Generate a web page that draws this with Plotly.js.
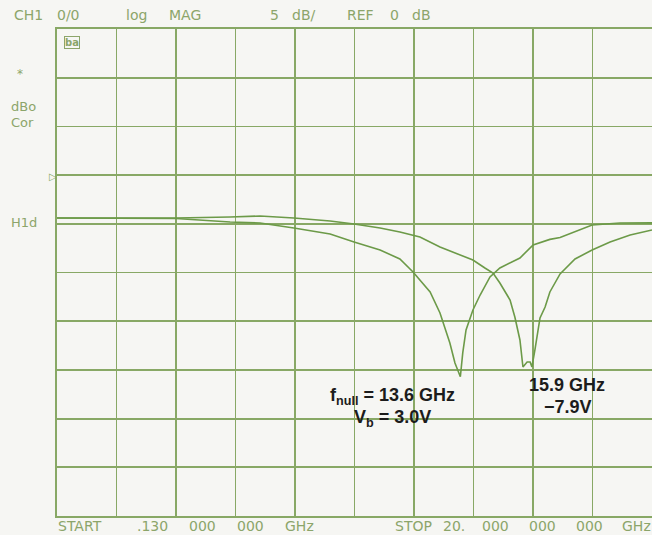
<!DOCTYPE html>
<html>
<head>
<meta charset="utf-8">
<script src="https://cdn.plot.ly/plotly-3.0.1.min.js"></script>
<style>
  html, body { margin: 0; padding: 0; background: #f6f6f3; }
  #chart { width: 652px; height: 535px; }
</style>
</head>
<body>
<div id="chart"></div>
<script>
// Sweep settings (GHz) and display scale (dB)
const startGHz = 0.13;
const stopGHz = 20.0;
const refDb = 0;
const dbPerDiv = 5;

// Trace 1: bias 3.0 V, null near 13.6 GHz
const freqA = [0.13, 2.13, 4.10, 5.91, 6.91, 8.04, 9.25, 10.05, 10.92, 11.58, 12.02, 12.59, 12.92, 13.25, 13.42, 13.60,
  13.68, 13.79, 14.02, 14.26, 14.59, 14.92, 15.26, 15.59, 16.03, 16.59, 16.93, 17.60, 18.00, 18.93, 19.93, 20.00];
const magA = [-4.40, -4.40, -4.46, -4.82, -4.92, -5.43, -6.05, -6.87, -7.69, -8.61, -9.95, -12.00, -14.16, -17.24, -19.29, -20.70,
  -18.26, -15.90, -13.85, -12.31, -10.46, -9.54, -9.03, -8.51, -7.18, -6.60, -6.40, -5.64, -5.12, -4.92, -4.92, -4.90];

// Trace 2: bias -7.9 V, null near 15.9 GHz
const freqB = [0.13, 2.13, 4.10, 5.91, 6.91, 8.04, 9.25, 10.05, 10.92, 11.58, 12.25, 12.92, 13.59, 14.02, 14.42, 14.69,
  14.92, 15.26, 15.42, 15.59, 15.69, 15.83, 15.93, 15.99, 16.09, 16.26, 16.43, 16.59, 16.93, 17.43, 18.00, 18.60, 19.27, 20.00];
const magB = [-4.40, -4.40, -4.40, -4.30, -4.20, -4.40, -4.71, -5.02, -5.43, -5.84, -6.36, -7.38, -8.20, -8.72, -9.54, -10.05,
  -11.08, -12.82, -14.57, -16.93, -19.70, -19.19, -19.19, -19.70, -17.95, -14.67, -13.54, -12.00, -10.15, -8.61, -7.69, -6.87, -6.15, -5.64];

// Instrument annotation strings
const headerWords = ["CH1", "0/0", "log", "MAG", "5", "dB/", "REF", "0", "dB"];
const startWords = ["START", ".130", "000", "000", "GHz"];
const stopWords = ["STOP", "20.", "000", "000", "000", "GHz"];
const sideLabels = ["dBo", "Cor", "H1d"];
const nullLabelA = ["f<sub>null</sub> = 13.6 GHz", "V<sub>b</sub> = 3.0V"];
const nullLabelB = ["15.9 GHz", "\u22127.9V"];

// Plot-area geometry in page pixels
const PL = 57, PT = 29, PW = 595, PH = 487;
const W = 652, H = 535;
const px = x => (x - PL) / PW;
const py = y => 1 - (y - PT) / PH;

const GRID = "#88a865";
const TRACE = "#6c9a48";
const INK = "#8ca56a";

const hp = { family: "DejaVu Sans, sans-serif", size: 14, color: INK };
const note = { family: "Liberation Sans, Arial, sans-serif", size: 18, color: "#1c1c1c", weight: "bold" };

function word(text, xLeft, yMid, font) {
  return { text: text, xref: "paper", yref: "paper", x: px(xLeft), y: py(yMid),
    xanchor: "left", yanchor: "middle", showarrow: false, font: font || hp };
}
function centered(text, xMid, yMid, font) {
  return { text: text, xref: "paper", yref: "paper", x: px(xMid), y: py(yMid),
    xanchor: "center", yanchor: "middle", showarrow: false, font: font || note };
}

const annotations = [];
const headerX = [12, 55, 124, 167, 268, 290, 345, 388, 410];
headerWords.forEach((w, i) => annotations.push(word(w, headerX[i], 15)));
const startX = [56, 135, 187, 235, 283];
startWords.forEach((w, i) => annotations.push(word(w, startX[i], 526)));
const stopX = [393, 441, 480, 527, 574, 620];
stopWords.forEach((w, i) => annotations.push(word(w, stopX[i], 526)));
const sideY = [106, 122, 222];
sideLabels.forEach((w, i) => annotations.push(word(w, 9, sideY[i], Object.assign({}, hp, { size: 13 }))));
annotations.push(word("*", 15, 74, Object.assign({}, hp, { size: 12 })));
annotations.push(word("\u25B7", 47, 176, Object.assign({}, hp, { size: 10, color: GRID })));
annotations.push({ text: "ba", xref: "paper", yref: "paper", x: px(64), y: py(42), xanchor: "left", yanchor: "middle",
  showarrow: false, font: { family: "DejaVu Sans, sans-serif", size: 10, color: INK, weight: "bold" },
  bordercolor: INK, borderwidth: 1, borderpad: 0 });

annotations.push(centered(nullLabelA[0], 392, 396));
annotations.push(centered(nullLabelA[1], 392, 418));
annotations.push(centered(nullLabelB[0], 567, 385));
annotations.push(centered(nullLabelB[1], 568, 407));

// Clear panels behind the marker readouts
const panels = [
  { type: "rect", xref: "paper", yref: "paper", x0: px(317), x1: px(466), y0: py(428), y1: py(372),
    fillcolor: "#f6f6f3", line: { width: 0 }, layer: "between" },
  { type: "rect", xref: "paper", yref: "paper", x0: px(466), x1: px(606), y0: py(416), y1: py(372),
    fillcolor: "#f6f6f3", line: { width: 0 }, layer: "between" }
];

const traceStyle = { color: TRACE, width: 1.6 };
const data = [
  { x: freqA, y: magA, type: "scatter", mode: "lines", line: traceStyle, hoverinfo: "skip" },
  { x: freqB, y: magB, type: "scatter", mode: "lines", line: traceStyle, hoverinfo: "skip" }
];

const xDiv = (stopGHz - startGHz) / 10;
const layout = {
  width: W, height: H,
  margin: { l: PL, r: W - PL - PW, t: PT, b: H - PT - PH, pad: 0 },
  paper_bgcolor: "#f6f6f3",
  plot_bgcolor: "#f6f6f3",
  showlegend: false,
  xaxis: {
    range: [startGHz, stopGHz], tick0: startGHz, dtick: xDiv, showticklabels: false, ticks: "",
    showgrid: true, gridcolor: GRID, gridwidth: 1.8, zeroline: false,
    showline: true, mirror: true, linecolor: GRID, linewidth: 1.8
  },
  yaxis: {
    range: [refDb - 7 * dbPerDiv, refDb + 3 * dbPerDiv], tick0: refDb, dtick: dbPerDiv,
    showticklabels: false, ticks: "", showgrid: true, gridcolor: GRID, gridwidth: 1.8, zeroline: false,
    showline: true, mirror: true, linecolor: GRID, linewidth: 1.8
  },
  annotations: annotations,
  shapes: panels
};

Plotly.newPlot("chart", data, layout, { staticPlot: true, displayModeBar: false });
</script>
</body>
</html>
